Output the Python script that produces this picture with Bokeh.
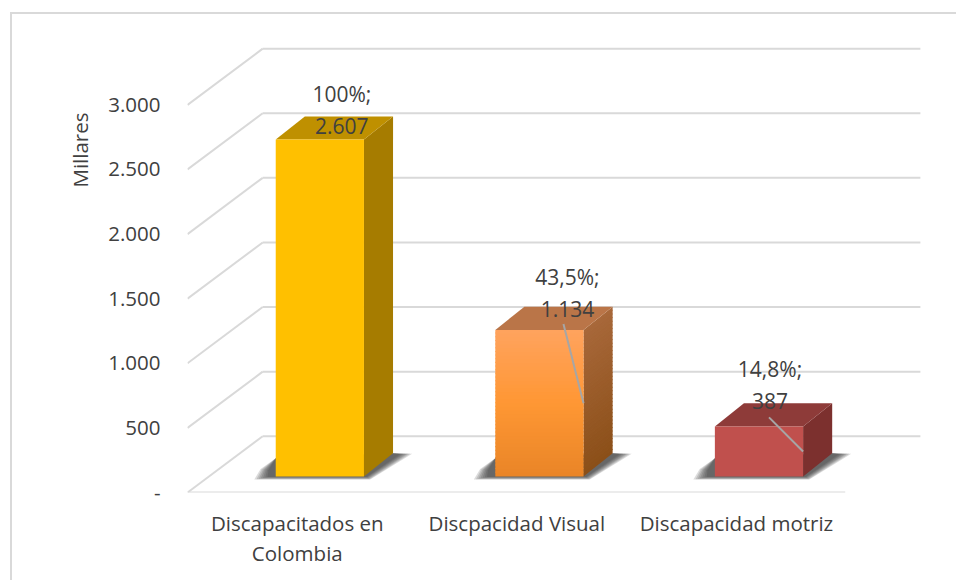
from bokeh.plotting import figure
from bokeh.models import Range1d, FixedTicker, ColumnDataSource, Title
from bokeh.core.properties import value as fv
from bokeh.embed import file_html
from bokeh.resources import INLINE

# ---- data ----
categories = ["Discapacitados en\nColombia", "Discpacidad Visual", "Discapacidad motriz"]
values = [2607, 1134, 387]
labels = ["100%;\n2.607", "43,5%;\n1.134", "14,8%;\n387"]
y_ticks = [0, 500, 1000, 1500, 2000, 2500, 3000]
y_tick_labels = ["-", "500", "1.000", "1.500", "2.000", "2.500", "3.000"]
y_title = "Millares"

# ---- layout (page pixels) ----
FIG_X, FIG_Y = 12, 16     # where the canvas starts on the page
W, H = 944, 566
FRAME_L, FRAME_B = 187, 492
CAT_W = 219.0
UNITS_PER_PX = 3000 / 386.0
FONT = "Open Sans"
FS = "20.5px"
TXT = "#404040"
GRID = "#d9d9d9"

def X(px):            # page x pixel -> category units
    return (px - (FRAME_L + CAT_W / 2)) / CAT_W
def DX(px):
    return px / CAT_W
def DY(px):
    return px * UNITS_PER_PX

p = figure(width=W, height=H, output_backend="svg", toolbar_location=None,
           x_range=Range1d(X(FRAME_L), X(FIG_X + W)),
           y_range=Range1d(0, DY(FRAME_B - FIG_Y)),
           min_border_left=FRAME_L - FIG_X, min_border_right=0, min_border_top=0,
           min_border_bottom=FIG_Y + H - FRAME_B,
           margin=(12, 0, 0, 10),
           styles={"border-top": "2px solid #d9d9d9", "border-left": "2px solid #d9d9d9",
                   "box-sizing": "content-box"})
p.outline_line_color = None
p.grid.visible = False
p.background_fill_color = "white"
p.border_fill_color = "white"

# axes
xa = p.xaxis[0]
xa.ticker = FixedTicker(ticks=list(range(len(categories))))
xa.major_label_overrides = {i: c for i, c in enumerate(categories)}
xa.axis_line_color = None
xa.major_tick_line_color = None
xa.minor_tick_line_color = None
xa.major_tick_out = 0
xa.major_tick_in = 0
xa.major_label_standoff = 16
xa.major_label_text_font = FONT
xa.major_label_text_font_size = FS
xa.major_label_text_color = TXT
xa.major_label_text_line_height = 1.1

ya = p.yaxis[0]
ya.ticker = FixedTicker(ticks=y_ticks)
ya.major_label_overrides = dict(zip(y_ticks, y_tick_labels))
ya.axis_line_color = None
ya.major_tick_line_color = None
ya.minor_tick_line_color = None
ya.major_tick_out = 0
ya.major_tick_in = 0
ya.major_label_standoff = 27
ya.major_label_text_font = FONT
ya.major_label_text_font_size = FS
ya.major_label_text_color = TXT

p.add_layout(Title(text=y_title, align="right", offset=98, standoff=23,
                   text_font=FONT, text_font_size=FS, text_color=TXT,
                   text_font_style="normal"), "left")

# wall & floor grid lines
WALL_DX, WALL_DY = 75, 56
BACK_END = 918
FRONT_END = 843
p.segment(x0=[X(FRAME_L)] * len(y_ticks), y0=y_ticks,
          x1=[X(FRAME_L + WALL_DX)] * len(y_ticks), y1=[v + DY(WALL_DY) for v in y_ticks],
          line_color=GRID, line_width=2)
p.segment(x0=[X(FRAME_L + WALL_DX)] * len(y_ticks), y0=[v + DY(WALL_DY) for v in y_ticks],
          x1=[X(BACK_END)] * len(y_ticks), y1=[v + DY(WALL_DY) for v in y_ticks],
          line_color=GRID, line_width=2)
p.segment(x0=[X(FRAME_L)], y0=[0], x1=[X(FRONT_END)], y1=[0], line_color=GRID, line_width=2)

# bars
BAR_W = 88
BAR_LIFT = 16
BAR_SHIFT = 22.5
DEPTH_X, DEPTH_Y = 29, 23
STRIPS = 40

def mix(c0, c1, t):
    return "#%02x%02x%02x" % tuple(round(a + (b - a) * t) for a, b in zip(c0, c1))

def grad(stops, t):
    for (t0, c0), (t1, c1) in zip(stops, stops[1:]):
        if t <= t1:
            return mix(c0, c1, (t - t0) / (t1 - t0))
    return mix(stops[-1][1], stops[-1][1], 0)

# (front stops, side stops, top colour, strips) bottom->top
styles = [
    ([(0, (255, 192, 0)), (1, (255, 192, 0))],
     [(0, (166, 124, 0)), (1, (166, 124, 0))], "#bf9000", 1),
    ([(0, (233, 133, 39)), (0.5, (255, 151, 52)), (1, (255, 163, 94))],
     [(0, (139, 79, 24)), (1, (168, 104, 58))], "#ba7548", STRIPS),
    ([(0, (192, 80, 77)), (1, (192, 80, 77))],
     [(0, (124, 48, 46)), (1, (124, 48, 46))], "#8e3b39", 1),
]

base = DY(BAR_LIFT)
for i, v in enumerate(values):
    x0 = i + DX(BAR_SHIFT - BAR_W / 2)
    x1 = x0 + DX(BAR_W)
    ddx, ddy = DX(DEPTH_X), DY(DEPTH_Y)
    # soft shadow: stacked translucent outlines, each inset a little more
    for g in range(7, 0, -1):
        xs = [x0 - DX(6 + g * 1.3), x0, x1 + ddx, x1 + ddx + DX(5 + g * 2.0),
              x1 + DX(2 + g * 0.6), x0 - DX(6 + g * 2.2)]
        ys = [base + DY(6 + g * 0.2), base + DY(18), base + ddy, base + ddy + DY(g * 0.1) - DY(1),
              base - DY(g * 0.45), base - DY(g * 0.45)]
        p.patch(xs, ys, fill_color="#303030", fill_alpha=0.17, line_color=None)
    front, side, top, n = styles[i]
    dv = v / n
    over = DY(1)
    for s in range(n):
        lo, hi = base + dv * s, min(base + dv * (s + 1) + over, base + v)
        c = grad(side, (s + .5) / n)
        p.patch([x1, x1 + ddx, x1 + ddx, x1], [lo, lo + ddy, hi + ddy, hi], fill_color=c, line_color=None)
    p.patch([x0, x1, x1 + ddx, x0 + ddx], [base + v, base + v, base + v + ddy, base + v + ddy],
            fill_color=top, line_color=None)
    for s in range(n):
        lo, hi = base + dv * s, min(base + dv * (s + 1) + over, base + v)
        p.quad(left=x0, right=x1, bottom=lo, top=hi, fill_color=grad(front, (s + .5) / n), line_color=None)

# leader lines (from the label to the middle of the bar's right edge)
LEAD_FROM = {1: (24, 6), 2: (10, 9)}
for i, (dx, dy) in LEAD_FROM.items():
    x1 = i + DX(BAR_SHIFT + BAR_W / 2)
    p.line([i + DX(BAR_SHIFT + dx), x1], [base + values[i] + DY(dy), base + values[i] / 2],
           line_color="#a6a6a6", line_width=2)

# data labels
src = ColumnDataSource(dict(
    x=[i + DX(BAR_SHIFT) for i in range(len(values))],
    y=[base + v for v in values],
    t=labels,
    xo=[22, 28, 11],
    yo=[-30, -37, -41],
))
p.text(x="x", y="y", text="t", source=src, x_offset="xo", y_offset="yo",
       text_align="center", text_baseline="middle", text_font=fv(FONT),
       text_font_size="21px", text_color=TXT, text_line_height=1.14)

open("out.html", "w").write(file_html(p, INLINE))
